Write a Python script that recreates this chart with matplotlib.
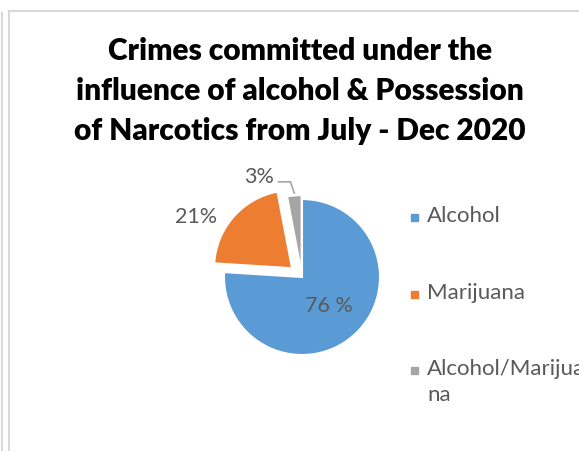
import matplotlib
matplotlib.use("Agg")
import matplotlib.pyplot as plt
from matplotlib.lines import Line2D
from matplotlib.patches import Rectangle
import numpy as np

# ---- data ----
categories = ["Alcohol", "Marijuana", "Alcohol/Marijuana"]
values = [76, 21, 3]
label_texts = ["76 %", "21%", "3%"]
legend_labels = ["Alcohol", "Marijuana", "Alcohol/Marijua\nna"]
title_lines = ["Crimes committed under the",
               "influence of alcohol & Possession",
               "of Narcotics from July - Dec 2020"]

# ---- style ----
colors = ["#5B9BD5", "#ED7D31", "#A5A5A5"]
explode = [0, 0.17, 0.05]
text_gray = "#595959"
border = "#D9D9D9"
W, H = 579, 452
plt.rcParams['font.family'] = ['Lato', 'DejaVu Sans']

fig = plt.figure(figsize=(W / 100, H / 100), dpi=100)
fig.patch.set_facecolor("white")

def fx(px):
    return px / W

def fy(py):
    return 1 - py / H

# borders
fig.add_artist(Line2D([fx(1.5), fx(1.5)], [fy(14), fy(452)], color=border, lw=1.5))
fig.add_artist(Line2D([fx(8.5), fx(8.5)], [fy(11.5), fy(452)], color=border, lw=1.5))
fig.add_artist(Line2D([fx(8.5), fx(579)], [fy(11.5), fy(11.5)], color=border, lw=1.5))

# title
for i, line in enumerate(title_lines):
    fig.text(fx(300), fy(51 + 40 * i), line, ha="center", va="center",
             fontsize=21.5, fontweight="heavy", color="#000000")

# pie
cx, cy, R = 302, 278, 78
ax = fig.add_axes([fx(cx - 2 * R), fy(cy + 2 * R), 4 * R / W, 4 * R / H])
wedges, _ = ax.pie(values, colors=colors, startangle=90, counterclock=False,
                   explode=explode, radius=1,
                   wedgeprops=dict(edgecolor="white", linewidth=1.5))
ax.set_xlim(-2, 2)
ax.set_ylim(-2, 2)
ax.set_aspect("equal")
ax.axis("off")

# data labels
lab_fs = 15.5
w0 = wedges[0]
mid0 = np.deg2rad((w0.theta1 + w0.theta2) / 2)
ax.text(0.5 * np.cos(mid0), 0.5 * np.sin(mid0), label_texts[0],
        ha="center", va="center", fontsize=lab_fs, color=text_gray)
ax.text(-1.36, 0.78, label_texts[1], ha="center", va="center",
        fontsize=lab_fs, color=text_gray)
ax.text(-0.55, 1.30, label_texts[2], ha="center", va="center",
        fontsize=lab_fs, color=text_gray)
w2 = wedges[2]
mid2 = np.deg2rad((w2.theta1 + w2.theta2) / 2)
c2 = w2.center
tip = (c2[0] + 1.0 * np.cos(mid2), c2[1] + 1.0 * np.sin(mid2))
ax.plot([-0.30, tip[0] - 0.05, tip[0]], [1.22, 1.22, tip[1] + 0.03],
        color="#A6A6A6", lw=1.2, clip_on=False)

# legend (manual)
leg_y = [218, 295, 371]
for lab, col, y in zip(legend_labels, colors, leg_y):
    fig.add_artist(Rectangle((fx(411), fy(y + 4)), 7 / W, 7 / H,
                             transform=fig.transFigure, color=col))
    fig.text(fx(427), fy(y - 12), lab, ha="left", va="top",
             fontsize=16, color=text_gray, linespacing=1.35)

fig.savefig("out.png", dpi=100, facecolor="white")
